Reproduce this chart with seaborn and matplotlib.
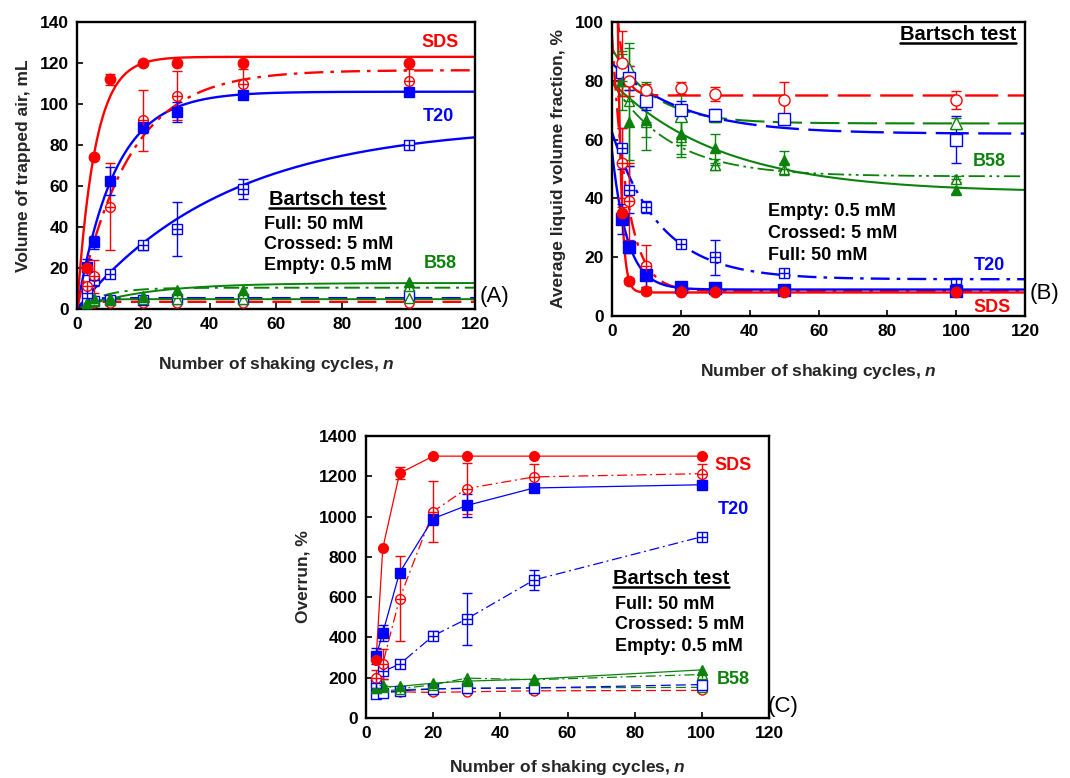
import numpy as np
import matplotlib
matplotlib.use("Agg")
import matplotlib.pyplot as plt
from matplotlib.lines import Line2D
import seaborn as sns

# ---------------- data ----------------
n_cycles = [3, 5, 10, 20, 30, 50, 100]

# Panel A: volume of trapped air, mL
a_sds_full = [20, 74, 112, 120, 120, 120, 120]
a_sds_full_err = [0, 1, 2.5, 1, 1, 1, 1]
a_sds_cross = [11, 16, 50, 92, 104, 110, 111]
a_sds_cross_err = [2, 8, 21, 15, 12, 7, 6]
a_sds_empty = [3, 3, 3, 3, 3, 3, 3]
a_t20_full = [20.5, 32.5, 62.5, 89, 96, 104.5, 106]
a_t20_full_err = [4, 3, 7, 3, 5, 1, 1]
a_t20_cross = [8, 14, 17, 31, 39, 58.5, 80]
a_t20_cross_err = [2, 3, 1, 2, 13, 5, 1]
a_t20_empty = [4, 4, 4.5, 4.5, 5, 5, 7]
a_b58_full = [3, 5.5, 5.5, 6.5, 9.5, 9.5, 13]
a_b58_cross = [3, 4.5, 5, 6, 8, 8, 11]
a_b58_empty = [3, 4, 4.5, 5, 5, 5, 5.5]
# fitted curves  V = Vmax * (1 - exp(-n / tau)) : [Vmax, tau]
a_fit_sds_full = [123, 5.4]
a_fit_sds_cross = [116.5, 15.5]
a_fit_sds_empty = [3.5, 1.0]
a_fit_t20_full = [106, 11.4]
a_fit_t20_cross = [90, 45]
a_fit_t20_empty = [5.3, 2.0]
a_fit_b58_full = [12.7, 20]
a_fit_b58_cross = [10.4, 8]
a_fit_b58_empty = [4.8, 3]

# Panel B: average liquid volume fraction, %
b_sds_full = [35, 12, 8.5, 8, 8, 8, 8]
b_sds_full_err = [2, 1, 1, 0.5, 0.5, 0.5, 0.5]
b_sds_cross = [52, 39, 17, 9, 8.5, 8.5, 8.5]
b_sds_cross_err = [12, 13, 7, 1, 1, 1, 1]
b_sds_empty = [86, 80, 77, 77.5, 75.5, 73.5, 73.5]
b_sds_empty_err = [11, 5, 2, 2, 2.5, 6, 3]
b_t20_full = [33, 23.5, 14, 10, 9.5, 9, 8.5]
b_t20_full_err = [5, 2, 4, 1, 1, 1, 1]
b_t20_cross = [57, 43, 37, 24.5, 20, 14.5, 11]
b_t20_cross_err = [7, 8, 2, 1, 6, 1, 2]
b_t20_empty = [83, 81, 73, 70, 68.5, 67, 60]
b_t20_empty_err = [3, 4, 3, 3, 2, 1, 8]
b_b58_full = [80, 66, 66.5, 62, 57, 53, 43]
b_b58_full_err = [10, 15, 10, 8, 5, 3, 1]
b_b58_cross = [80, 73, 66, 61, 51.5, 50, 46.5]
b_b58_cross_err = [5, 20, 5, 6, 2, 2, 1]
b_b58_empty = [84, 84, 77.5, 68, 68, 67, 65.5]
b_b58_empty_err = [5, 7, 2, 10, 2, 1, 2]
# fitted curves  phi = phi_inf + A * exp(-n / tau) : [phi_inf, A, tau]
b_fit_sds_full = [8, 470, 1.05]
b_fit_sds_cross = [8.5, 87, 4.4]
b_fit_sds_empty = [75, 60, 2.0]
b_fit_t20_full = [9, 47, 4.46]
b_fit_t20_cross = [12.5, 50, 14]
b_fit_t20_empty = [62, 24, 20]
b_fit_b58_full = [42, 37.5, 32]
b_fit_b58_cross = [47.5, 32, 17]
b_fit_b58_empty = [65.5, 25.5, 11.9]

# Panel C: overrun, %
c_sds_full = [290, 843, 1215, 1300, 1300, 1300, 1300]
c_sds_full_err = [0, 0, 30, 0, 0, 0, 0]
c_sds_cross = [200, 270, 593, 1025, 1139, 1197, 1213]
c_sds_cross_err = [40, 75, 213, 152, 126, 64, 50]
c_sds_empty = [130, 130, 130, 127, 130, 135, 137]
c_t20_full = [308, 423, 722, 990, 1055, 1142, 1158]
c_t20_full_err = [40, 40, 0, 30, 55, 0, 0]
c_t20_cross = [175, 231, 267, 408, 492, 685, 900]
c_t20_cross_err = [20, 35, 0, 22, 131, 48, 0]
c_t20_empty = [120, 124, 135, 144, 147, 149, 166]
c_b58_full = [150, 155, 157, 173, 183, 193, 239]
c_b58_cross = [150, 162, 145, 165, 198, 190, 216]
c_b58_empty = [130, 135, 140, 145, 148, 150, 152]

# ---------------- style ----------------
RED = "#ff0000"
BLUE = "#0000ff"
GREEN = "#0c820c"
LS_FULL = "-"
LS_CROSS = (0, (8, 3, 1.5, 3))
LS_CROSS2 = (0, (9, 2.5, 1.5, 2.5, 1.5, 2.5))
LS_EMPTY = (0, (8, 4))
LS_EMPTY_LONG = (0, (14, 4))

sns.set_theme(style="ticks")
plt.rcParams["font.family"] = ["Liberation Sans", "DejaVu Sans"]
plt.rcParams.update({
    "font.weight": "bold",
    "axes.labelweight": "bold",
    "axes.edgecolor": "black",
    "axes.linewidth": 1.6,
    "xtick.direction": "in",
    "ytick.direction": "in",
    "xtick.major.size": 4,
    "ytick.major.size": 4,
    "xtick.major.width": 1.2,
    "ytick.major.width": 1.2,
    "xtick.color": "black",
    "ytick.color": "black",
    "xtick.labelsize": 12.5,
    "ytick.labelsize": 12.5,
    "axes.labelsize": 12.5,
    "mathtext.fontset": "custom",
    "mathtext.rm": "Liberation Sans:bold",
    "mathtext.bf": "Liberation Sans:bold",
    "mathtext.it": "Liberation Sans:italic:bold",
    "mathtext.bfit": "Liberation Sans:italic:bold",
})

fig = plt.figure(figsize=(10.70, 7.78), dpi=100)
axA = fig.add_axes([77 / 1070, 1 - 309 / 778, 398 / 1070, 287 / 778])
axB = fig.add_axes([612 / 1070, 1 - 316 / 778, 413 / 1070, 294 / 778])
axC = fig.add_axes([366 / 1070, 1 - 718 / 778, 403 / 1070, 282 / 778])

n_fit = np.linspace(0, 120, 601)


def markers(ax, y, color, kind, shape, ms=7.0, err=None, cap=3.5):
    if err is not None:
        ax.errorbar(n_cycles, y, yerr=err, fmt="none", ecolor=color,
                    elinewidth=1.0, capsize=cap, capthick=1.0, zorder=3)
    if kind == "full":
        sns.lineplot(x=n_cycles, y=y, ax=ax, marker=shape, linestyle="",
                     color=color, markersize=ms, markerfacecolor=color,
                     markeredgecolor=color, markeredgewidth=1.0,
                     estimator=None, sort=False, zorder=4)
    else:
        sns.lineplot(x=n_cycles, y=y, ax=ax, marker=shape, linestyle="",
                     color=color, markersize=ms, markerfacecolor="white",
                     markeredgecolor=color, markeredgewidth=1.0,
                     estimator=None, sort=False, zorder=4)
        if kind == "cross":
            sns.lineplot(x=n_cycles, y=y, ax=ax, marker="+", linestyle="",
                         color=color, markersize=ms * 0.95,
                         markeredgecolor=color, markeredgewidth=1.0,
                         estimator=None, sort=False, zorder=5)


def fit_rise(ax, p, color, ls, lw=1.7):
    yv = p[0] * (1 - np.exp(-n_fit / p[1]))
    sns.lineplot(x=n_fit, y=yv, ax=ax, color=color, linestyle=ls,
                 linewidth=lw, estimator=None, sort=False, zorder=2)


def fit_decay(ax, p, color, ls, lw=1.7):
    yv = p[0] + p[1] * np.exp(-n_fit / p[2])
    sns.lineplot(x=n_fit, y=yv, ax=ax, color=color, linestyle=ls,
                 linewidth=lw, estimator=None, sort=False, zorder=2)


def joined(ax, y, color, ls):
    sns.lineplot(x=n_cycles, y=y, ax=ax, color=color, linestyle=ls,
                 linewidth=0.9, estimator=None, sort=False, zorder=2)


# ---------------- Panel A ----------------
fit_rise(axA, a_fit_sds_empty, RED, LS_EMPTY)
fit_rise(axA, a_fit_t20_empty, BLUE, LS_EMPTY)
fit_rise(axA, a_fit_b58_empty, GREEN, LS_FULL, 1.4)
fit_rise(axA, a_fit_b58_cross, GREEN, LS_CROSS, 1.4)
fit_rise(axA, a_fit_b58_full, GREEN, LS_FULL, 1.4)
fit_rise(axA, a_fit_t20_cross, BLUE, LS_FULL)
fit_rise(axA, a_fit_t20_full, BLUE, LS_FULL)
fit_rise(axA, a_fit_sds_cross, RED, LS_CROSS)
fit_rise(axA, a_fit_sds_full, RED, LS_FULL)

markers(axA, a_sds_empty, RED, "empty", "o", 6.5)
markers(axA, a_t20_empty, BLUE, "empty", "s", 6.5)
markers(axA, a_b58_empty, GREEN, "empty", "^", 6.5)
markers(axA, a_b58_cross, GREEN, "cross", "^", 6.5)
markers(axA, a_b58_full, GREEN, "full", "^", 7)
markers(axA, a_t20_cross, BLUE, "cross", "s", 7, a_t20_cross_err)
markers(axA, a_sds_cross, RED, "cross", "o", 7, a_sds_cross_err)
markers(axA, a_t20_full, BLUE, "full", "s", 7.5, a_t20_full_err)
markers(axA, a_sds_full, RED, "full", "o", 7.5, a_sds_full_err)

axA.set_xlim(0, 120)
axA.set_ylim(0, 140)
axA.set_xticks(range(0, 121, 20))
axA.set_yticks(range(0, 141, 20))
axA.set_xlabel(r"Number of shaking cycles, $\mathbfit{n}$", labelpad=16)
axA.set_ylabel("Volume of trapped air, mL", labelpad=6)

# ---------------- Panel B ----------------
fit_decay(axB, b_fit_b58_empty, GREEN, LS_EMPTY_LONG, 1.5)
fit_decay(axB, b_fit_b58_cross, GREEN, LS_CROSS2, 1.3)
fit_decay(axB, b_fit_b58_full, GREEN, LS_FULL, 1.5)
fit_decay(axB, b_fit_t20_empty, BLUE, LS_EMPTY_LONG)
fit_decay(axB, b_fit_sds_empty, RED, LS_EMPTY_LONG)
fit_decay(axB, b_fit_t20_cross, BLUE, LS_CROSS)
fit_decay(axB, b_fit_sds_cross, RED, LS_CROSS)
fit_decay(axB, b_fit_t20_full, BLUE, LS_FULL)
fit_decay(axB, b_fit_sds_full, RED, LS_FULL)

markers(axB, b_b58_empty, GREEN, "empty", "^", 8, b_b58_empty_err)
markers(axB, b_b58_cross, GREEN, "cross", "^", 7.5, b_b58_cross_err)
markers(axB, b_b58_full, GREEN, "full", "^", 7.5, b_b58_full_err)
markers(axB, b_t20_empty, BLUE, "empty", "s", 8, b_t20_empty_err)
markers(axB, b_sds_empty, RED, "empty", "o", 8, b_sds_empty_err)
markers(axB, b_t20_cross, BLUE, "cross", "s", 7.5, b_t20_cross_err)
markers(axB, b_sds_cross, RED, "cross", "o", 7.5, b_sds_cross_err)
markers(axB, b_t20_full, BLUE, "full", "s", 8, b_t20_full_err)
markers(axB, b_sds_full, RED, "full", "o", 7.5, b_sds_full_err)

axB.set_xlim(0, 120)
axB.set_ylim(0, 100)
axB.set_xticks(range(0, 121, 20))
axB.set_yticks(range(0, 101, 20))
axB.set_xlabel(r"Number of shaking cycles, $\mathbfit{n}$", labelpad=16)
axB.set_ylabel("Average liquid volume fraction, %", labelpad=6)

# ---------------- Panel C ----------------
joined(axC, c_sds_empty, RED, LS_EMPTY)
joined(axC, c_b58_empty, GREEN, LS_EMPTY)
joined(axC, c_t20_empty, BLUE, LS_EMPTY)
joined(axC, c_b58_cross, GREEN, LS_CROSS)
joined(axC, c_b58_full, GREEN, LS_FULL)
joined(axC, c_t20_cross, BLUE, LS_CROSS)
joined(axC, c_sds_cross, RED, LS_CROSS)
joined(axC, c_t20_full, BLUE, LS_FULL)
joined(axC, c_sds_full, RED, LS_FULL)

markers(axC, c_sds_empty, RED, "empty", "o", 6.5)
markers(axC, c_b58_empty, GREEN, "empty", "^", 6.5)
markers(axC, c_t20_empty, BLUE, "empty", "s", 7)
markers(axC, c_b58_cross, GREEN, "cross", "^", 6.5)
markers(axC, c_b58_full, GREEN, "full", "^", 6.5)
markers(axC, c_t20_cross, BLUE, "cross", "s", 7, c_t20_cross_err)
markers(axC, c_sds_cross, RED, "cross", "o", 7, c_sds_cross_err)
markers(axC, c_t20_full, BLUE, "full", "s", 7.5, c_t20_full_err)
markers(axC, c_sds_full, RED, "full", "o", 7, c_sds_full_err)

axC.set_xlim(0, 120)
axC.set_ylim(0, 1400)
axC.set_xticks(range(0, 121, 20))
axC.set_yticks(range(0, 1401, 200))
axC.set_xlabel(r"Number of shaking cycles, $\mathbfit{n}$", labelpad=12)
axC.set_ylabel("Overrun, %", labelpad=6)

for ax in (axA, axB, axC):
    ax.tick_params(top=False, right=False, pad=6)
    for s in ax.spines.values():
        s.set_visible(True)
        s.set_color("black")
        s.set_linewidth(1.7)

# ---------------- annotations ----------------
def txt(ax, fx, fy, s, color="black", size=13, ha="center", weight="bold"):
    return ax.text(fx, fy, s, transform=ax.transAxes, ha=ha, va="center",
                   fontsize=size, fontweight=weight, color=color, clip_on=False)

titles = []
# A
txt(axA, 0.912, 0.930, "SDS", RED)
txt(axA, 0.907, 0.672, "T20", BLUE)
titles.append(txt(axA, 0.628, 0.380, "Bartsch test", size=14.5))
txt(axA, 0.470, 0.296, "Full: 50 mM", ha="left")
txt(axA, 0.470, 0.223, "Crossed: 5 mM", ha="left")
txt(axA, 0.470, 0.150, "Empty: 0.5 mM", ha="left")
txt(axA, 0.912, 0.157, "B58", GREEN)
txt(axA, 1.050, 0.045, "(A)", size=16, weight="normal")
# B
titles.append(txt(axB, 0.837, 0.956, "Bartsch test", size=14.5))
txt(axB, 0.378, 0.354, "Empty: 0.5 mM", ha="left")
txt(axB, 0.378, 0.282, "Crossed: 5 mM", ha="left")
txt(axB, 0.378, 0.207, "Full: 50 mM", ha="left")
txt(axB, 0.913, 0.524, "B58", GREEN)
txt(axB, 0.913, 0.173, "T20", BLUE)
txt(axB, 0.920, 0.030, "SDS", RED)
txt(axB, 1.048, 0.078, "(B)", size=16, weight="normal")
# C
txt(axC, 0.911, 0.894, "SDS", RED)
txt(axC, 0.911, 0.738, "T20", BLUE)
titles.append(txt(axC, 0.756, 0.496, "Bartsch test", size=14.5))
txt(axC, 0.618, 0.401, "Full: 50 mM", ha="left")
txt(axC, 0.618, 0.330, "Crossed: 5 mM", ha="left")
txt(axC, 0.618, 0.255, "Empty: 0.5 mM", ha="left")
txt(axC, 0.911, 0.138, "B58", GREEN)
txt(axC, 1.035, 0.041, "(C)", size=16, weight="normal")

# underline the "Bartsch test" headings
fig.canvas.draw()
renderer = fig.canvas.get_renderer()
inv = fig.transFigure.inverted()
for t in titles:
    bb = t.get_window_extent(renderer)
    (x0, y0) = inv.transform((bb.x0, bb.y0 + 1.0))
    (x1, _) = inv.transform((bb.x1, bb.y0))
    fig.add_artist(Line2D([x0, x1], [y0, y0], color="black", linewidth=1.8,
                          transform=fig.transFigure))

fig.savefig("out.png", dpi=100)
